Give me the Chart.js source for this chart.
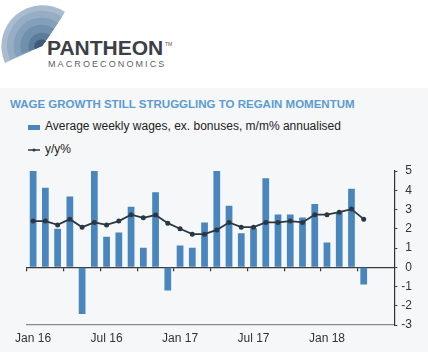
<!DOCTYPE html>
<html>
<head>
<meta charset="utf-8">
<script src="https://cdn.jsdelivr.net/npm/chart.js@4.4.1/dist/chart.umd.min.js"></script>
<style>
  body { margin: 0; width: 428px; height: 352px; background: #fff; position: relative; overflow: hidden;
         font-family: "Liberation Sans", Arial, sans-serif; }
  .abs { position: absolute; white-space: nowrap; }
  #panel { left: 0; top: 88px; width: 428px; height: 264px; background: #f6f7f8; }
  #brand { left: 47px; top: 36px; font-size: 21px; font-weight: bold; color: #3b4046; }
  #tm { left: 165px; top: 41px; font-size: 5px; color: #555; }
  #sub { left: 48px; top: 59px; font-size: 9px; letter-spacing: 2.1px; color: #5a5f66; }
  #title { left: 10px; top: 98px; font-size: 11.5px; font-weight: bold; color: #5b9bd3; }
  .leg { left: 45px; font-size: 12px; color: #222; }
  #chart { position: absolute; left: 0; top: 160px; }
</style>
</head>
<body>
<div id="panel" class="abs"></div>
<svg class="abs" style="left:0;top:0" width="80" height="70" viewBox="0 0 80 70">
  <path d="M42 46 L5 63 A41 41 0 0 1 65 12 Z" fill="#a9bccf"/>
  <path d="M42 46 L10 60 A35 35 0 0 1 62 17 Z" fill="#96adc4"/>
  <path d="M42 46 L16 57 A28 28 0 0 1 58 23 Z" fill="#839fba"/>
  <path d="M42 46 L22 54 A21 21 0 0 1 54 29 Z" fill="#7090ae"/>
  <path d="M42 46 L29 51 A14 14 0 0 1 50 35 Z" fill="#5b7b9c"/>
  <path d="M42 46 L35 49 A7 7 0 0 1 46 41 Z" fill="#3e5a78"/>
</svg>
<div id="brand" class="abs">PANTHEON</div>
<div id="tm" class="abs">TM</div>
<div id="sub" class="abs">MACROECONOMICS</div>
<div id="title" class="abs">WAGE GROWTH STILL STRUGGLING TO REGAIN MOMENTUM</div>
<div class="abs" style="left:28px;top:125px;width:12px;height:5px;background:#4a86be"></div>
<div class="abs leg" style="top:119px">Average weekly wages, ex. bonuses, m/m% annualised</div>
<svg class="abs" style="left:28px;top:147px" width="12" height="6"><line x1="0" y1="3" x2="12" y2="3" stroke="#2b3844" stroke-width="1.5"/><circle cx="6" cy="3" r="1.6" fill="#2b3844"/></svg>
<div class="abs leg" style="top:142px">y/y%</div>
<canvas id="chart" width="428" height="192"></canvas>
<script>
const months = ['Jan 16', 'Feb 16', 'Mar 16', 'Apr 16', 'May 16', 'Jun 16', 'Jul 16', 'Aug 16', 'Sep 16', 'Oct 16', 'Nov 16', 'Dec 16',
                'Jan 17', 'Feb 17', 'Mar 17', 'Apr 17', 'May 17', 'Jun 17', 'Jul 17', 'Aug 17', 'Sep 17', 'Oct 17', 'Nov 17', 'Dec 17',
                'Jan 18', 'Feb 18', 'Mar 18', 'Apr 18', 'May 18', 'Jun 18'];
// m/m% annualised
const wagesMm = [5.0, 4.13, 2.0, 3.68, -2.43, 5.0, 1.58, 1.8, 3.14, 1.01, 3.9, -1.21,
                 1.13, 1.01, 2.33, 5.0, 3.19, 1.77, 2.03, 4.62, 2.74, 2.74, 2.59, 3.28,
                 1.28, 2.86, 4.08, -0.9, null, null];
// y/y%
const wagesYy = [2.4, 2.4, 2.2, 2.5, 2.08, 2.33, 2.2, 2.4, 2.73, 2.57, 2.71, 2.29,
                 2.0, 1.72, 1.72, 1.94, 2.33, 2.08, 2.08, 2.33, 2.33, 2.4, 2.33, 2.73,
                 2.73, 2.86, 3.02, 2.5, null, null];
const yMin = -3;
const yMax = 5;

const ctx = document.getElementById('chart').getContext('2d');
new Chart(ctx, {
    type: 'bar',
    data: {
        labels: months,
        datasets: [
            {
                type: 'line',
                label: 'y/y%',
                data: wagesYy,
                xAxisID: 'x',
                borderColor: '#2b3844',
                backgroundColor: '#2b3844',
                borderWidth: 1.8,
                pointRadius: 1.6,
                pointBackgroundColor: '#2b3844',
                tension: 0,
                order: 0
            },
            {
                label: 'Average weekly wages, ex. bonuses, m/m% annualised',
                data: wagesMm,
                xAxisID: 'x',
                backgroundColor: '#4a86be',
                barPercentage: 0.55,
                categoryPercentage: 1.0,
                order: 1
            }
        ]
    },
    options: {
        responsive: false,
        animation: false,
        layout: { padding: { left: 27, right: 16, top: 11, bottom: 0.6 } },
        plugins: {
            legend: { display: false },
            title: { display: false },
            tooltip: { enabled: false }
        },
        scales: {
            x: {
                type: 'category',
                offset: true,
                grid: { display: false, drawTicks: false, offset: true },
                border: { display: true, color: '#8a8a8a', width: 1.3 },
                ticks: {
                    autoSkip: false,
                    maxRotation: 0,
                    minRotation: 0,
                    padding: 6,
                    color: '#333',
                    font: { family: 'Liberation Sans, Arial, sans-serif', size: 12 },
                    callback: (v, i) => (i % 6 === 0 ? months[i] : '')
                }
            },
            x2: {
                type: 'category',
                position: { y: 0 },
                offset: true,
                grid: {
                    offset: true,
                    drawOnChartArea: false,
                    drawTicks: true,
                    tickLength: 3,
                    lineWidth: 1.2,
                    color: (c) => (c.index % 3 === 0 ? '#333' : 'rgba(0,0,0,0)')
                },
                border: { display: true, color: '#3a3a3a', width: 1.2 },
                ticks: { display: false, autoSkip: false }
            },
            y: {
                position: 'right',
                min: yMin,
                max: yMax,
                grid: { drawOnChartArea: false, drawTicks: true, tickLength: 3, color: '#333' },
                border: { color: '#333', width: 1.2 },
                ticks: {
                    stepSize: 1,
                    padding: 2,
                    crossAlign: 'far',
                    color: '#333',
                    font: { family: 'Liberation Sans, Arial, sans-serif', size: 12 }
                }
            }
        }
    }
});
</script>
</body>
</html>
